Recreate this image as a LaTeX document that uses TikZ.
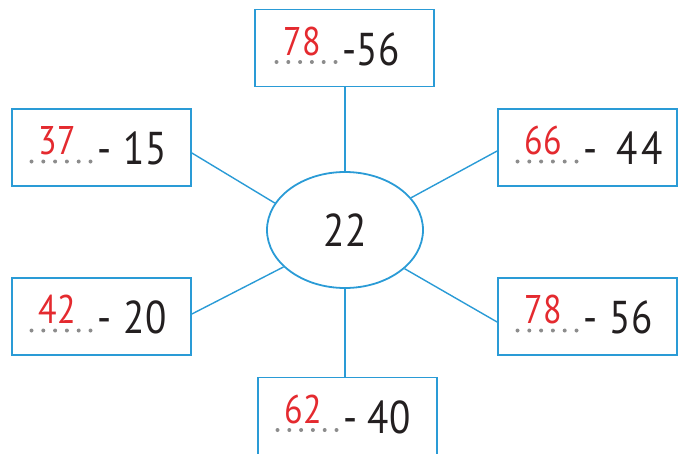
\documentclass[tikz,border=0pt]{standalone}
\usepackage{fontspec}
\setmainfont{PT Sans}
\newfontfamily\numfont[FakeStretch=0.85]{PT Sans}
\usetikzlibrary{shapes.geometric}
\definecolor{boxblue}{HTML}{2A9BD6}
\definecolor{ansred}{HTML}{E42A2F}
\definecolor{ink}{HTML}{231F20}
\definecolor{dotgray}{HTML}{8C8C8C}
\tikzset{
 ansbox/.style={draw=boxblue, line width=1.8pt, minimum width=179pt, minimum height=77pt, inner sep=0pt},
 link/.style={draw=boxblue, line width=1.4pt},
 oval/.style={ellipse, draw=boxblue, line width=1.8pt, minimum width=156pt, minimum height=116pt, inner sep=0pt, font=\numfont\fontsize{46}{46}\selectfont, text=ink},
 redtxt/.style={text=ansred, font=\numfont\fontsize{40}{40}\selectfont, inner sep=0pt, anchor=base west},
 blktxt/.style={text=ink, font=\numfont\fontsize{46}{46}\selectfont, inner sep=0pt, anchor=base west},
 dotline/.style={dotgray, line width=4pt, line cap=round, dash pattern=on 0pt off 11.8pt},
}
\newcommand\fillbox[4]{%
 \coordinate (#1-d) at ([xshift=#4pt, yshift=-14pt]#1.center);
 \draw[dotline] (#1-d) -- ++(59.3,0);
 \node[redtxt] (#1-r) at ([xshift=#4pt+7pt, yshift=-7pt]#1.center) {#2};
 \node[blktxt] (#1-k) at ([xshift=#4pt+66pt, yshift=-17pt]#1.center) {#3};
}
\begin{document}
\begin{tikzpicture}[x=1pt,y=-1pt]
\useasboundingbox (0,0) rectangle (699,453);
\node[ansbox] (top) at (344.5,48) {};
\node[ansbox] (lt) at (101.5,147.5) {};
\node[ansbox] (rt) at (587.5,147.5) {};
\node[ansbox] (lb) at (101.5,316.5) {};
\node[ansbox] (rb) at (587.5,316.5) {};
\node[ansbox] (bot) at (347.5,416) {};
\node[oval] (ell) at (345,230) {22};
\draw[link] (ell.north) -- (ell.north |- top.south);
\draw[link] ([yshift=-5.5pt]lt.east) -- (ell.159);
\draw[link] ([yshift=-3.5pt]rt.west) -- (ell.26);
\draw[link] ([yshift=2.5pt]lb.east) -- (ell.211);
\draw[link] ([yshift=-5.5pt]rb.west) -- (ell.327);
\draw[link] (ell.south) -- (ell.south |- bot.north);
\fillbox{top}{78}{-56}{-68}
\fillbox{lt}{37}{-\hspace{12pt}15}{-70}
\fillbox{rt}{66}{-\hspace{19pt}4\hspace{3pt}4}{-70}
\fillbox{lb}{42}{-\hspace{12pt}20}{-70}
\fillbox{rb}{78}{-\hspace{12pt}56}{-70}
\fillbox{bot}{62}{-\hspace{10pt}40}{-70}
\end{tikzpicture}
\end{document}
